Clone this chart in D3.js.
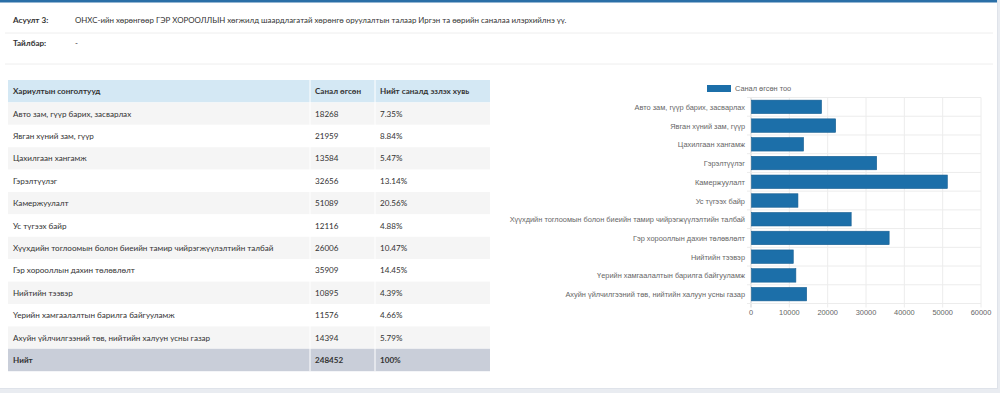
<!DOCTYPE html>
<html lang="mn">
<head>
<meta charset="UTF-8">
<title>Асуулт 3</title>
<script src="https://cdn.jsdelivr.net/npm/d3@7"></script>
<style>
    body{ margin:0; background:#e9ecf1; }
    svg{ display:block; }
</style>
</head>
<body>
<svg id="page"></svg>
<script>
    // өгөгдөл
    const categories = [
        "Авто зам, гүүр барих, засварлах",
        "Явган хүний зам, гүүр",
        "Цахилгаан хангамж",
        "Гэрэлтүүлэг",
        "Камержуулалт",
        "Ус түгээх байр",
        "Хүүхдийн тоглоомын болон биеийн тамир чийрэгжүүлэлтийн талбай",
        "Гэр хорооллын дахин төлөвлөлт",
        "Нийтийн тээвэр",
        "Үерийн хамгаалалтын барилга байгууламж",
        "Ахуйн үйлчилгээний төв, нийтийн халуун усны газар"
    ];
    const votes = [18268, 21959, 13584, 32656, 51089, 12116, 26006, 35909, 10895, 11576, 14394];
    const shares = ["7.35%", "8.84%", "5.47%", "13.14%", "20.56%", "4.88%", "10.47%", "14.45%", "4.39%", "4.66%", "5.79%"];
    const headers = ["Хариултын сонголтууд", "Санал өгсөн", "Нийт саналд эзлэх хувь"];
    const totalRow = ["Нийт", "248452", "100%"];
    const xTicks = [0, 10000, 20000, 30000, 40000, 50000, 60000];
    const legendLabel = "Санал өгсөн тоо";
    const question = "ОНХС-ийн хөрөнгөөр ГЭР ХОРООЛЛЫН хөгжилд шаардлагатай хөрөнгө оруулалтын талаар Иргэн та өөрийн саналаа илэрхийлнэ үү.";

    const w = 1000, h = 393;
    const svg = d3.select('#page').attr('width', w).attr('height', h);
    const font = "Lato, 'Open Sans', sans-serif";

    // карт
    svg.append('rect').attr('x', 0).attr('y', 0).attr('width', 998).attr('height', 389).attr('fill', '#dfe3ea');
    svg.append('rect').attr('x', 0).attr('y', 0).attr('width', 997).attr('height', 388).attr('fill', '#fff');
    svg.append('rect').attr('x', 0).attr('y', 0).attr('width', 997).attr('height', 2.5).attr('fill', '#2a6fa7');

    // асуулт
    const head = svg.append('g').attr('font-family', font).attr('font-size', '7.9px').attr('fill', '#333');
    head.append('text').attr('x', 13).attr('y', 23).attr('font-weight', 700).attr('font-size', '8.1px').text('Асуулт 3:');
    head.append('text').attr('x', 75).attr('y', 23).text(question);
    head.append('text').attr('x', 13).attr('y', 46).attr('font-weight', 700).attr('font-size', '8.1px').text('Тайлбар:');
    head.append('text').attr('x', 75).attr('y', 46).text('-');
    [33, 64].forEach(y => svg.append('line').attr('x1', 5).attr('x2', 993).attr('y1', y).attr('y2', y)
        .attr('stroke', '#eee').attr('stroke-width', 1));

    // хүснэгт
    const ty = 80, rowH = 22.4;
    const colX = [8, 310, 375, 490];
    const rows = categories.map((c, i) => [c, String(votes[i]), shares[i]]);
    const allRows = [headers].concat(rows, [totalRow]);
    const table = svg.append('g').attr('font-family', font).attr('font-size', '8.1px');
    allRows.forEach((r, i) => {
        const y = ty + i * rowH;
        let bg = i === 0 ? '#d4e8f4' : (i === allRows.length - 1 ? '#c9ced9' : (i % 2 === 1 ? '#f5f5f5' : '#fff'));
        table.append('rect').attr('x', colX[0]).attr('y', y).attr('width', colX[3] - colX[0]).attr('height', rowH).attr('fill', bg);
        r.forEach((cell, j) => {
            table.append('text').attr('x', colX[j] + 5).attr('y', y + rowH / 2 + 3)
                .attr('fill', '#333')
                .attr('font-weight', (i === 0 || i === allRows.length - 1) ? 700 : 400)
                .text(cell);
        });
    });
    [colX[1], colX[2]].forEach(x => table.append('line').attr('x1', x).attr('x2', x)
        .attr('y1', ty).attr('y2', ty + allRows.length * rowH).attr('stroke', '#fff').attr('stroke-width', 1));

    // график
    const plot = {left: 751, right: 981, top: 97.5, bottom: 303.5};
    const x = d3.scaleLinear().domain([0, 60000]).range([plot.left, plot.right]);
    const y = d3.scaleBand().domain(categories).range([plot.top, plot.bottom]).paddingInner(0.28).paddingOuter(0.14);
    const chart = svg.append('g').attr('font-family', "'Liberation Sans', Arial, sans-serif").attr('font-size', '7.4px');

    // торын шугам
    chart.append('g').selectAll('line').data(xTicks).join('line')
        .attr('x1', d => x(d)).attr('x2', d => x(d)).attr('y1', plot.top).attr('y2', plot.bottom + 4)
        .attr('stroke', d => d === 0 ? '#cfcfcf' : '#ececec').attr('stroke-width', 1);
    const bounds = d3.range(categories.length + 1).map(i => plot.top + i * (plot.bottom - plot.top) / categories.length);
    chart.append('g').selectAll('line').data(bounds).join('line')
        .attr('x1', plot.left - 4).attr('x2', plot.right).attr('y1', d => d).attr('y2', d => d)
        .attr('stroke', '#ececec').attr('stroke-width', 1);

    chart.append('g').selectAll('rect').data(categories).join('rect')
        .attr('x', x(0) + 0.5).attr('y', d => y(d))
        .attr('width', (d, i) => x(votes[i]) - x(0)).attr('height', y.bandwidth())
        .attr('fill', '#1c6fa9').attr('stroke', '#185f92').attr('stroke-width', 0.6);

    chart.append('g').selectAll('text').data(categories).join('text')
        .attr('x', plot.left - 6).attr('y', d => y(d) + y.bandwidth() / 2 + 3)
        .attr('text-anchor', 'end').attr('fill', '#666').text(d => d);

    chart.append('g').selectAll('text').data(xTicks).join('text')
        .attr('x', d => x(d)).attr('y', plot.bottom + 11)
        .attr('text-anchor', 'middle').attr('fill', '#666').text(d => d);

    // тайлбар
    chart.append('rect').attr('x', 707).attr('y', 85).attr('width', 24).attr('height', 7).attr('fill', '#1c6fa9');
    chart.append('text').attr('x', 735).attr('y', 91).attr('fill', '#666').text(legendLabel);
</script>
</body>
</html>
